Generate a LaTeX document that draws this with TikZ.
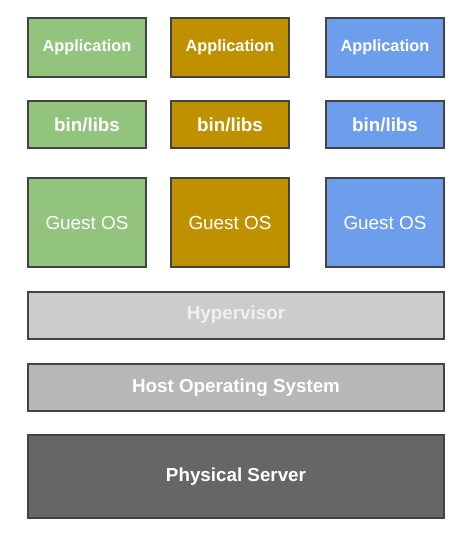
\documentclass[tikz,border=0pt]{standalone}
\usepackage{fontspec}
\setmainfont{Liberation Sans}
\definecolor{frame}{HTML}{434343}
\definecolor{vmgreen}{HTML}{93C47D}
\definecolor{vmgold}{HTML}{BF9000}
\definecolor{vmblue}{HTML}{6D9EEB}
\definecolor{hyper}{HTML}{CCCCCC}
\definecolor{host}{HTML}{B7B7B7}
\definecolor{server}{HTML}{666666}
\begin{document}
\begin{tikzpicture}[x=1pt, y=-1pt,
  layer/.style={draw=frame, line width=2pt, text=white, inner sep=0pt,
    font=\fontsize{18.8}{22}\selectfont\bfseries},
  vm/.style={layer, minimum width=118pt},
  wide/.style={layer, minimum width=416pt, minimum height=47pt}]
  \useasboundingbox (0, 0) rectangle (465, 537);
  \node[vm, fill=vmgreen, minimum height=59pt, font=\fontsize{16.3}{20}\selectfont\bfseries] (app1) at (87, 47.5) {Application};
  \node[vm, fill=vmgold, minimum height=59pt, font=\fontsize{16.3}{20}\selectfont\bfseries] (app2) at (230, 47.5) {Application};
  \node[vm, fill=vmblue, minimum height=59pt, font=\fontsize{16.3}{20}\selectfont\bfseries] (app3) at (385, 47.5) {Application};
  \node[vm, fill=vmgreen, minimum height=47pt] (bin1) at (87, 124.5) {bin/libs};
  \node[vm, fill=vmgold, minimum height=47pt] (bin2) at (230, 124.5) {bin/libs};
  \node[vm, fill=vmblue, minimum height=47pt] (bin3) at (385, 124.5) {bin/libs};
  \node[vm, fill=vmgreen, minimum height=89pt, font=\fontsize{18.9}{22}\selectfont] (os1) at (87, 222.5) {Guest OS};
  \node[vm, fill=vmgold, minimum height=89pt, font=\fontsize{18.9}{22}\selectfont] (os2) at (230, 222.5) {Guest OS};
  \node[vm, fill=vmblue, minimum height=89pt, font=\fontsize{18.9}{22}\selectfont] (os3) at (385, 222.5) {Guest OS};
  \node[wide, fill=hyper, text=white!94!black] (hyp) at (236, 315) {Hypervisor};
  \node[wide, fill=host] (hostos) at (236, 387.5) {Host Operating System};
  \node[wide, fill=server, minimum height=83pt] (phys) at (236, 476.5) {Physical Server};
\end{tikzpicture}
\end{document}
